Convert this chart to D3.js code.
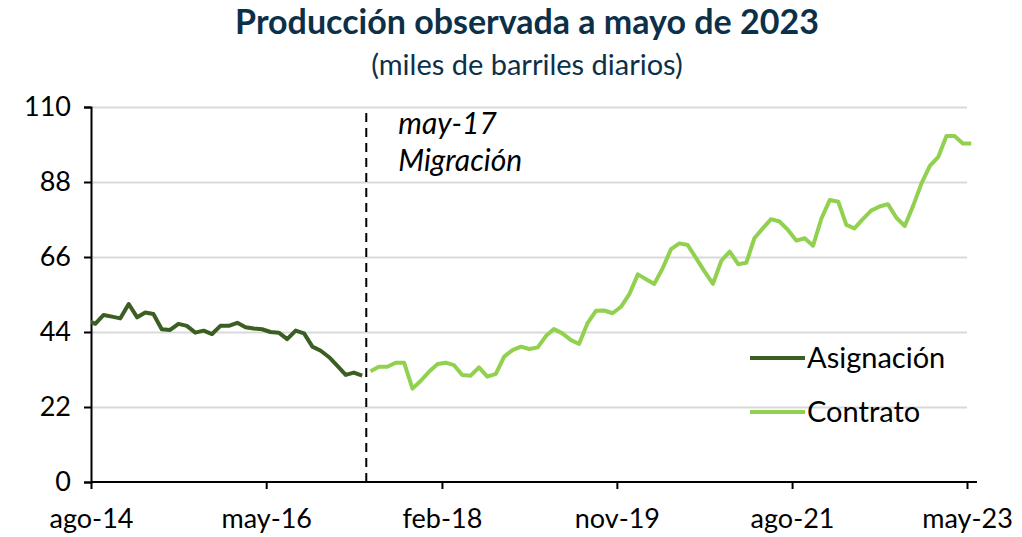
<!DOCTYPE html>
<html>
<head>
<meta charset="utf-8">
<script src="https://cdn.jsdelivr.net/npm/d3@7"></script>
<style>
  body { margin: 0; background: #fff; }
  svg text { font-family: Lato, "Open Sans", sans-serif; }
</style>
</head>
<body>
<svg id="chart" width="1022" height="537"></svg>
<script>
// monthly production, thousand barrels/day
const asignacionStart = "2014-07";
const asignacion = [47.5, 46.4, 49.0, 48.5, 48.0, 52.2, 48.3, 49.7, 49.3, 44.8, 44.6, 46.4,
    45.8, 43.8, 44.4, 43.4, 45.8, 45.8, 46.7, 45.4, 45.0, 44.8, 44.0, 43.8,
    41.9, 44.4, 43.6, 39.7, 38.5, 36.6, 34.0, 31.4, 32.1, 31.2];

const contratoStart = "2017-05";
const contrato = [32.5, 33.8, 33.8, 35.0, 35.0, 27.4, 29.7, 32.4, 34.6, 35.0, 34.3, 31.4,
    31.2, 33.6, 30.9, 31.7, 36.8, 38.7, 39.7, 39.0, 39.5, 42.8, 44.9, 43.6,
    41.7, 40.5, 46.5, 50.2, 50.3, 49.5, 51.4, 55.1, 60.9, 59.5, 58.1, 62.7,
    68.3, 70.0, 69.5, 65.6, 61.7, 58.1, 64.9, 67.6, 63.9, 64.3, 71.5, 74.4,
    77.1, 76.4, 74.0, 70.8, 71.5, 69.3, 77.3, 82.7, 82.2, 75.4, 74.4, 77.1,
    79.6, 80.8, 81.5, 77.5, 75.1, 81.0, 87.6, 92.7, 95.4, 101.5, 101.5, 99.3, 99.3];

const yTicks = [0, 22, 44, 66, 88, 110];
const xTickDates = ["2014-08", "2016-05", "2018-02", "2019-11", "2021-08", "2023-05"];
const monthNames = ["ene", "feb", "mar", "abr", "may", "jun", "jul", "ago", "sep", "oct", "nov", "dic"];
const migrationDate = "2017-05";

const parseMonth = d3.timeParse("%Y-%m");

function toPoints(start, values) {
    let s = parseMonth(start);
    return values.map((v, i) => ({ date: d3.timeMonth.offset(s, i), value: v }));
}

// points sit in the middle of their month (Excel "between tick marks")
function mid(date) {
    return new Date((+date + +d3.timeMonth.offset(date, 1)) / 2);
}

function makeChart() {
    let svg = d3.select("#chart");
    let margin = {top: 107, right: 55, bottom: 55, left: 91};
    let width = +svg.attr("width") - margin.left - margin.right;
    let height = +svg.attr("height") - margin.top - margin.bottom;

    let x_scale = d3.scaleTime()
        .domain([parseMonth("2014-08"), parseMonth("2023-05")])
        .range([0, 876]);

    let y_scale = d3.scaleLinear()
        .domain([0, 110])
        .range([height, 0]);

    let g = svg.append("g")
        .attr("transform", `translate(${margin.left},${margin.top})`);

    svg.append("defs").append("clipPath")
        .attr("id", "plot-clip")
        .append("rect")
        .attr("x", 0).attr("y", -10)
        .attr("width", width + 20).attr("height", height + 10);

    // grid
    g.append("g")
        .call(d3.axisLeft(y_scale).tickValues(yTicks.slice(1)).tickSize(-width).tickFormat(""))
        .call(g => g.select(".domain").remove())
        .call(g => g.selectAll(".tick line").attr("stroke", "#d9d9d9").attr("stroke-width", 2));

    // y axis
    g.append("g")
        .attr("class", "axis axis-y")
        .call(d3.axisLeft(y_scale).tickValues(yTicks).tickSize(7).tickPadding(13))
        .call(g => g.select(".domain").attr("stroke", "#000").attr("stroke-width", 2))
        .call(g => g.selectAll(".tick line").attr("stroke", "#000").attr("stroke-width", 2))
        .call(g => g.selectAll(".tick text")
            .style("font-size", "27px")
            .style("fill", "#000"));

    // x axis
    g.append("g")
        .attr("class", "axis axis-x")
        .attr("transform", `translate(0,${height})`)
        .call(d3.axisBottom(x_scale)
            .tickValues(xTickDates.map(parseMonth))
            .tickSize(7)
            .tickPadding(20)
            .tickFormat(d => monthNames[d.getMonth()] + "-" + d3.timeFormat("%y")(d)))
        .call(g => g.select(".domain").attr("stroke", "#000").attr("stroke-width", 2)
            .attr("d", `M0,0H${width + 10}`))
        .call(g => g.selectAll(".tick line").attr("stroke", "#000").attr("stroke-width", 2))
        .call(g => g.selectAll(".tick text")
            .style("font-size", "27px")
            .style("fill", "#000"));

    // migration marker
    let xm = x_scale(parseMonth(migrationDate));
    g.append("line")
        .attr("x1", xm).attr("x2", xm)
        .attr("y1", 6).attr("y2", height)
        .attr("stroke", "#000")
        .attr("stroke-width", 2)
        .attr("stroke-dasharray", "9,6");

    g.append("text")
        .attr("x", xm + 32).attr("y", 27)
        .style("font-size", "30px")
        .style("font-style", "italic")
        .text("may-17");
    g.append("text")
        .attr("x", xm + 32).attr("y", 64)
        .style("font-size", "30px")
        .style("font-style", "italic")
        .text("Migración");

    let line = d3.line()
        .x(d => x_scale(mid(d.date)))
        .y(d => y_scale(d.value));

    let series = [
        { name: "Asignación", color: "#3b5e23", data: toPoints(asignacionStart, asignacion) },
        { name: "Contrato", color: "#92d050", data: toPoints(contratoStart, contrato) },
    ];

    g.append("g")
        .attr("clip-path", "url(#plot-clip)")
        .selectAll(".series")
        .data(series)
        .enter().append("path")
        .attr("class", "series")
        .attr("d", d => line(d.data))
        .attr("fill", "none")
        .attr("stroke", d => d.color)
        .attr("stroke-width", 4)
        .attr("stroke-linejoin", "round");

    // legend
    let legend = g.selectAll(".legend")
        .data(series)
        .enter().append("g")
        .attr("class", "legend")
        .attr("transform", (d, i) => `translate(${659},${251 + i * 54})`);
    legend.append("line")
        .attr("x1", 0).attr("x2", 55)
        .attr("stroke", d => d.color)
        .attr("stroke-width", 4);
    legend.append("text")
        .attr("x", 57).attr("dy", "0.35em")
        .style("font-size", "29px")
        .text(d => d.name);

    // titles
    svg.append("text")
        .attr("x", 527).attr("y", 34)
        .attr("text-anchor", "middle")
        .style("font-size", "34px")
        .style("font-weight", "bold")
        .style("fill", "#0d3049")
        .text("Producción observada a mayo de 2023");
    svg.append("text")
        .attr("x", 527).attr("y", 75)
        .attr("text-anchor", "middle")
        .style("font-size", "29px")
        .style("fill", "#0d3049")
        .text("(miles de barriles diarios)");
}

makeChart();
</script>
</body>
</html>
